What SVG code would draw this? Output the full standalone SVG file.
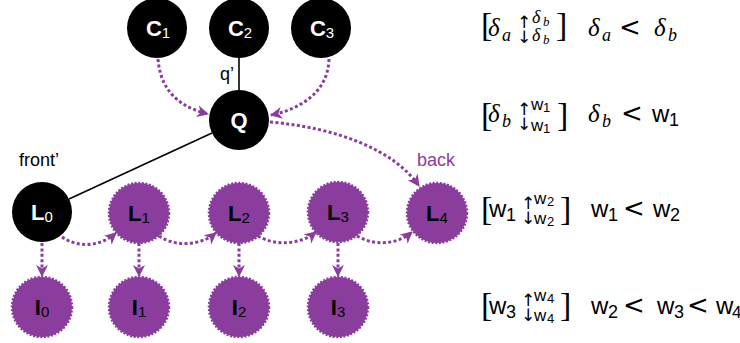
<svg xmlns="http://www.w3.org/2000/svg" width="740" height="343" viewBox="0 0 740 343">
  <style>
    .blk { fill: #000; }
    .pur { fill: #8a3d9d; stroke: #8a3d9d; stroke-width: 2.5; stroke-dasharray: 2 1.6; }
    .lbl { font-family: "Liberation Sans", Arial, sans-serif; font-size: 22px; font-weight: bold; text-anchor: middle; }
    .lbl .sub { font-size: 15px; font-weight: normal; }
    .w { fill: #fff; }
    .k { fill: #000; }
    .edge { fill: none; stroke: #000; stroke-width: 1.6; }
    .flow { fill: none; stroke: #8a3d9d; stroke-width: 3; stroke-dasharray: 3 2.4; }
    .tag { font-family: "Liberation Sans", Arial, sans-serif; font-size: 18px; }
    .it { font-family: "Liberation Serif", "Times New Roman", serif; font-style: italic; }
    .ss { font-family: "Liberation Sans", Arial, sans-serif; }
    .lt { font-family: "DejaVu Sans", sans-serif; font-size: 26px; }
    .m { font-size: 25px; }
    .mw { font-size: 24px; }
    .s { font-size: 18px; }
    .sw { font-size: 17px; }
    .t { font-size: 13px; }
    .br { font-family: "Liberation Serif", "Times New Roman", serif; font-size: 34px; }
    .ar { font-family: "DejaVu Sans", sans-serif; font-size: 17px; }
  </style>
  <defs>
    <marker id="head" viewBox="0 0 12 12" markerWidth="12" markerHeight="12" refX="11" refY="6" orient="auto" markerUnits="userSpaceOnUse">
      <path d="M0,0 L12,6 L0,12 L3.5,6 Z" fill="#8a3d9d" stroke="none"/>
    </marker>
  </defs>

  <!-- connectors -->
  <g id="connectors">
    <line class="edge" x1="239" y1="57" x2="239" y2="91"/>
    <line class="edge" x1="212" y1="133" x2="69" y2="199"/>
    <path class="flow" marker-end="url(#head)" d="M158,59 C161,95 184,108 208,114"/>
    <path class="flow" marker-end="url(#head)" d="M329,59 C328,95 296,110 271,115"/>
    <path class="flow" marker-end="url(#head)" d="M270,122 C338,128 394,150 419,186"/>
    <path class="flow" marker-end="url(#head)" d="M62,237 C78,248 100,247 116,233"/>
    <path class="flow" marker-end="url(#head)" d="M159,236 C175,247 200,246 216,233"/>
    <path class="flow" marker-end="url(#head)" d="M258,236 C275,246 300,245 316,232"/>
    <path class="flow" marker-end="url(#head)" d="M357,236 C374,246 397,245 412,232"/>
    <path class="flow" marker-end="url(#head)" d="M42,243 L42,276"/>
    <path class="flow" marker-end="url(#head)" d="M139,243 L139,276"/>
    <path class="flow" marker-end="url(#head)" d="M239,243 L239,276"/>
    <path class="flow" marker-end="url(#head)" d="M338,243 L338,276"/>
    <text class="tag" x="234" y="80" text-anchor="end">q’</text>
    <text class="tag" x="19" y="166">front’</text>
    <text class="tag" x="417" y="166" fill="#8a3d9d">back</text>
  </g>

  <!-- nodes -->
  <g id="C1"><circle class="blk" cx="157" cy="28" r="30"/><text class="lbl w" x="158" y="36">C<tspan class="sub" dy="2">1</tspan></text></g>
  <g id="C2"><circle class="blk" cx="239" cy="28" r="30"/><text class="lbl w" x="240" y="36">C<tspan class="sub" dy="2">2</tspan></text></g>
  <g id="C3"><circle class="blk" cx="321" cy="28" r="30"/><text class="lbl w" x="322" y="36">C<tspan class="sub" dy="2">3</tspan></text></g>
  <g id="Q"><circle class="blk" cx="239" cy="120" r="30"/><text class="lbl w" x="239" y="128">Q</text></g>
  <g id="L0"><circle class="blk" cx="42" cy="212" r="30"/><text class="lbl w" x="42" y="220">L<tspan class="sub" dy="2">0</tspan></text></g>
  <g id="L1"><circle class="pur" cx="139" cy="213" r="30"/><text class="lbl k" x="139" y="221">L<tspan class="sub" dy="2">1</tspan></text></g>
  <g id="L2"><circle class="pur" cx="239" cy="213" r="30"/><text class="lbl k" x="239" y="221">L<tspan class="sub" dy="2">2</tspan></text></g>
  <g id="L3"><circle class="pur" cx="338" cy="212" r="30"/><text class="lbl k" x="338" y="220">L<tspan class="sub" dy="2">3</tspan></text></g>
  <g id="L4"><circle class="pur" cx="437" cy="213" r="30"/><text class="lbl k" x="437" y="221">L<tspan class="sub" dy="2">4</tspan></text></g>
  <g id="I0"><circle class="pur" cx="42" cy="307" r="30"/><text class="lbl k" x="42" y="315">I<tspan class="sub" dy="2">0</tspan></text></g>
  <g id="I1"><circle class="pur" cx="139" cy="307" r="30"/><text class="lbl k" x="139" y="315">I<tspan class="sub" dy="2">1</tspan></text></g>
  <g id="I2"><circle class="pur" cx="239" cy="307" r="30"/><text class="lbl k" x="239" y="315">I<tspan class="sub" dy="2">2</tspan></text></g>
  <g id="I3"><circle class="pur" cx="338" cy="307" r="30"/><text class="lbl k" x="338" y="315">I<tspan class="sub" dy="2">3</tspan></text></g>

  <!-- interval annotations -->
  <g id="row1">
    <text class="br" x="481" y="36">[</text>
    <text class="it m" x="488" y="36">δ</text><text class="it s" x="502" y="41">a</text>
    <text class="ar" x="517" y="28">↑</text><text class="ar" x="517" y="43">↓</text>
    <text class="it s" x="532" y="23">δ</text><text class="it t" x="543" y="26">b</text>
    <text class="it s" x="532" y="41">δ</text><text class="it t" x="543" y="44">b</text>
    <text class="br" x="556" y="36">]</text>
    <text class="it m" x="588" y="36">δ</text><text class="it s" x="602" y="41">a</text>
    <text class="lt" x="619" y="36">&lt;</text>
    <text class="it m" x="654" y="36">δ</text><text class="it s" x="668" y="41">b</text>
  </g>
  <g id="row2">
    <text class="br" x="481" y="126">[</text>
    <text class="it m" x="488" y="122">δ</text><text class="it s" x="502" y="127">b</text>
    <text class="ar" x="517" y="115">↑</text><text class="ar" x="517" y="130">↓</text>
    <text class="ss sw" x="531" y="110">w</text><text class="ss t" x="543" y="112">1</text>
    <text class="ss sw" x="531" y="131">w</text><text class="ss t" x="543" y="133">1</text>
    <text class="br" x="557" y="126">]</text>
    <text class="it m" x="588" y="122">δ</text><text class="it s" x="602" y="127">b</text>
    <text class="lt" x="621" y="122">&lt;</text>
    <text class="ss mw" x="652" y="122">w</text><text class="ss s" x="669" y="126">1</text>
  </g>
  <g id="row3">
    <text class="br" x="481" y="220">[</text>
    <text class="ss mw" x="489" y="217">w</text><text class="ss s" x="506" y="221">1</text>
    <text class="ar" x="521" y="209">↑</text><text class="ar" x="521" y="224">↓</text>
    <text class="ss sw" x="534" y="204">w</text><text class="ss t" x="547" y="206">2</text>
    <text class="ss sw" x="534" y="224">w</text><text class="ss t" x="547" y="226">2</text>
    <text class="br" x="560" y="220">]</text>
    <text class="ss mw" x="591" y="217">w</text><text class="ss s" x="608" y="221">1</text>
    <text class="lt" x="623" y="217">&lt;</text>
    <text class="ss mw" x="653" y="217">w</text><text class="ss s" x="670" y="221">2</text>
  </g>
  <g id="row4">
    <text class="br" x="481" y="316">[</text>
    <text class="ss mw" x="489" y="314">w</text><text class="ss s" x="506" y="318">3</text>
    <text class="ar" x="521" y="306">↑</text><text class="ar" x="521" y="321">↓</text>
    <text class="ss sw" x="534" y="301">w</text><text class="ss t" x="547" y="303">4</text>
    <text class="ss sw" x="534" y="321">w</text><text class="ss t" x="547" y="323">4</text>
    <text class="br" x="560" y="316">]</text>
    <text class="ss mw" x="591" y="314">w</text><text class="ss s" x="608" y="318">2</text>
    <text class="lt" x="623" y="314">&lt;</text>
    <text class="ss mw" x="657" y="314">w</text><text class="ss s" x="674" y="318">3</text>
    <text class="lt" x="687" y="314">&lt;</text>
    <text class="ss mw" x="716" y="314">w</text><text class="ss sw" x="732" y="318">4</text>
  </g>
</svg>
